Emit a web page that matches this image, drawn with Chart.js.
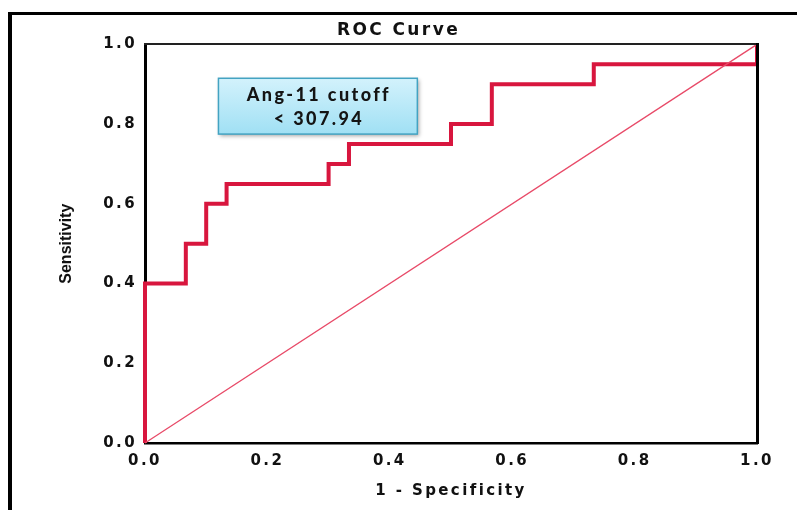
<!DOCTYPE html>
<html>
<head>
<meta charset="utf-8">
<script src="https://cdn.jsdelivr.net/npm/chart.js@4.4.1/dist/chart.umd.min.js"></script>
<style>
  html, body { margin: 0; padding: 0; background: #fff; overflow: hidden; }
  #wrap { position: relative; width: 797px; height: 510px; overflow: hidden; }
  #frame { position: absolute; left: 8px; top: 12px; width: 1200px; height: 1200px;
           border-left: 4px solid #000; border-top: 3px solid #000; }
  #c { position: absolute; left: 0; top: 0; }
</style>
</head>
<body>
<div id="wrap">
  <div id="frame"></div>
  <canvas id="c" width="797" height="510"></canvas>
</div>
<script>
// ROC curve steps (1 - specificity, sensitivity)
const fpr = [0, 0, 0.0667, 0.0667, 0.1, 0.1, 0.1333, 0.1333, 0.3, 0.3, 0.3333, 0.3333, 0.5, 0.5, 0.5667, 0.5667, 0.7333, 0.7333, 1, 1];
const tpr = [0, 0.4, 0.4, 0.5, 0.5, 0.6, 0.6, 0.65, 0.65, 0.7, 0.7, 0.75, 0.75, 0.8, 0.8, 0.9, 0.9, 0.95, 0.95, 1];
// reference diagonal
const refX = [0, 1];
const refY = [0, 1];
// tick values
const tickValues = [0, 0.2, 0.4, 0.6, 0.8, 1.0];
// annotation
const annotationLines = ['Ang-11 cutoff', '< 307.94'];
const annotationAnchor = { x0: 0.12, x1: 0.445, y0: 0.775, y1: 0.915 };

const toPts = (xs, ys) => xs.map((x, i) => ({ x: x, y: ys[i] }));

const WIDE = '2.4px';

const framePlugin = {
  id: 'framePlugin',
  beforeDraw(chart) {
    chart.ctx.letterSpacing = WIDE;
  },
  afterDatasetsDraw(chart) {
    const ctx = chart.ctx;
    const xs = chart.scales.x, ys = chart.scales.y;
    ctx.save();
    const L = xs.getPixelForValue(annotationAnchor.x0);
    const R = xs.getPixelForValue(annotationAnchor.x1);
    const T = ys.getPixelForValue(annotationAnchor.y1);
    const B = ys.getPixelForValue(annotationAnchor.y0);
    ctx.save();
    ctx.shadowColor = 'rgba(0,0,0,0.35)';
    ctx.shadowBlur = 4;
    ctx.shadowOffsetX = 2;
    ctx.shadowOffsetY = 2;
    const g = ctx.createLinearGradient(0, T, 0, B);
    g.addColorStop(0, '#d3f2fc');
    g.addColorStop(1, '#a0e0f4');
    ctx.fillStyle = g;
    ctx.fillRect(L, T, R - L, B - T);
    ctx.restore();
    ctx.strokeStyle = '#43a3c2';
    ctx.lineWidth = 1.5;
    ctx.strokeRect(L, T, R - L, B - T);
    ctx.fillStyle = '#141414';
    ctx.font = '900 18px Lato, "Open Sans", sans-serif';
    ctx.letterSpacing = '2.4px';
    ctx.textAlign = 'center';
    ctx.textBaseline = 'middle';
    const cx = (L + R) / 2;
    const cy = (T + B) / 2;
    ctx.fillText(annotationLines[0], cx + 1, cy - 11);
    ctx.fillText(annotationLines[1], cx + 1, cy + 13);
    ctx.restore();
    // the Sensitivity title (drawn later) is not widened
    ctx.letterSpacing = '0px';
  }
};

const tickFont = { family: '"DejaVu Sans", sans-serif', size: 15, weight: 'bold' };

new Chart(document.getElementById('c'), {
  type: 'scatter',
  data: {
    datasets: [
      {
        label: 'ROC',
        data: toPts(fpr, tpr),
        showLine: true,
        borderColor: '#d8163e',
        borderWidth: 4,
        pointRadius: 0,
        tension: 0,
        clip: false,
        order: 2
      },
      {
        label: 'Reference',
        data: toPts(refX, refY),
        showLine: true,
        borderColor: '#e84a68',
        borderWidth: 1.3,
        pointRadius: 0,
        tension: 0,
        clip: false,
        order: 1
      }
    ]
  },
  options: {
    responsive: false,
    animation: false,
    events: [],
    layout: { padding: 0 },
    plugins: {
      legend: { display: false },
      tooltip: { enabled: false },
      title: {
        display: true,
        text: 'ROC Curve',
        color: '#111',
        font: { family: '"DejaVu Sans", sans-serif', size: 17, weight: 'bold' },
        padding: { top: 20, bottom: 4 }
      }
    },
    scales: {
      x: {
        type: 'linear',
        position: 'bottom',
        min: 0, max: 1,
        afterBuildTicks: s => { s.ticks = tickValues.map(v => ({ value: v })); },
        afterFit: s => { s.height = 67; },
        grid: { display: false, drawTicks: false },
        border: { display: true, color: '#000', width: 2.5 },
        ticks: {
          color: '#111',
          font: tickFont,
          padding: 9,
          maxRotation: 0,
          autoSkip: false,
          callback: v => Number(v).toFixed(1)
        },
        title: {
          display: true,
          text: '1 - Specificity',
          color: '#111',
          font: { family: '"DejaVu Sans", sans-serif', size: 15, weight: 'bold' },
          padding: { top: 0, bottom: 10 }
        }
      },
      xTop: {
        type: 'linear',
        position: 'top',
        min: 0, max: 1,
        afterFit: s => { s.height = 0; },
        grid: { display: false, drawTicks: false },
        border: { display: true, color: '#222', width: 2, z: 1 },
        ticks: { display: false }
      },
      yRight: {
        type: 'linear',
        position: 'right',
        min: 0, max: 1,
        afterFit: s => { s.width = 40; },
        grid: { display: false, drawTicks: false },
        border: { display: true, color: '#000', width: 3, z: 1 },
        ticks: { display: false }
      },
      y: {
        type: 'linear',
        position: 'left',
        weight: 0,
        min: 0, max: 1,
        afterBuildTicks: s => { s.ticks = tickValues.map(v => ({ value: v })); },
        afterFit: s => { s.width = 65; },
        grid: { display: false, drawTicks: false },
        border: { display: true, color: '#000', width: 3 },
        ticks: {
          color: '#111',
          font: tickFont,
          padding: 8,
          autoSkip: false,
          callback: v => Number(v).toFixed(1)
        },
        title: { display: false }
      },
      ySens: {
        type: 'linear',
        position: 'left',
        weight: 1,
        min: 0, max: 1,
        afterFit: s => { s.width = 80; },
        grid: { display: false, z: 1 },
        border: { display: false },
        ticks: { display: false, z: 1 },
        title: {
          display: true,
          text: 'Sensitivity',
          color: '#111',
          font: { family: '"Liberation Sans", Arial, sans-serif', size: 16, weight: 'bold' },
          padding: { top: 57, bottom: 0 }
        }
      }
    }
  },
  plugins: [framePlugin]
});
</script>
</body>
</html>
